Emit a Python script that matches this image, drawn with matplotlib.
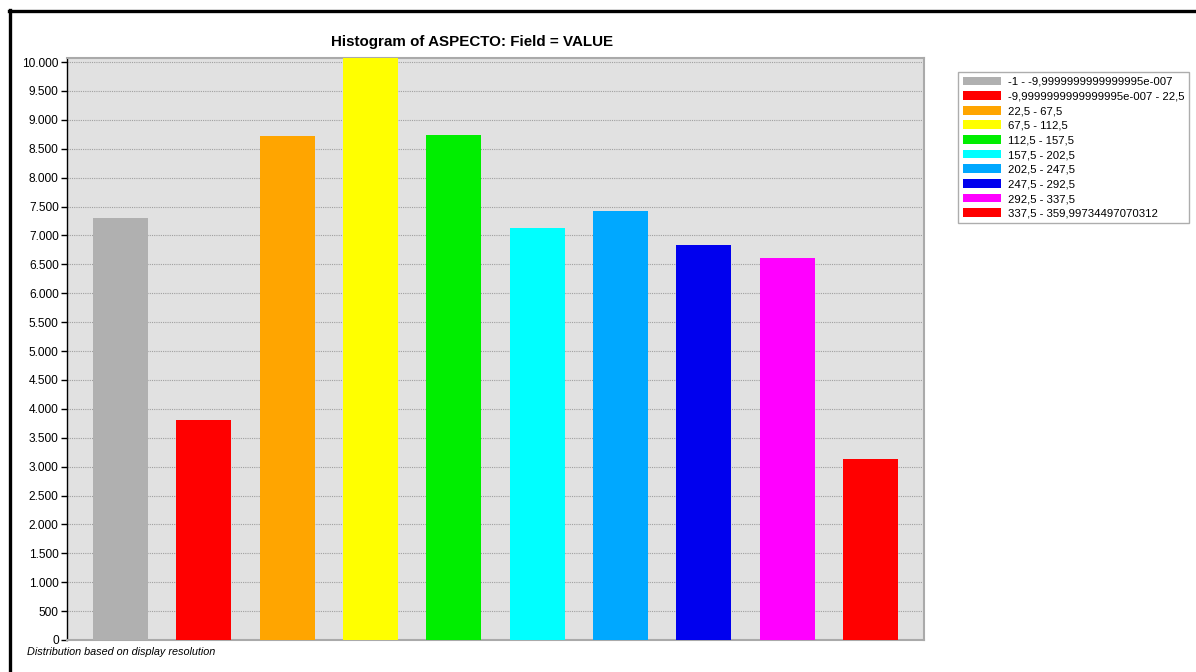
import numpy as np
import matplotlib.pyplot as plt
from matplotlib.patches import Patch
from matplotlib.lines import Line2D
from matplotlib.ticker import FuncFormatter

plt.rcParams['font.family'] = ['Liberation Sans', 'DejaVu Sans']

# classes of the histogram
labels = ['-1 - -9,9999999999999995e-007',
          '-9,9999999999999995e-007 - 22,5',
          '22,5 - 67,5',
          '67,5 - 112,5',
          '112,5 - 157,5',
          '157,5 - 202,5',
          '202,5 - 247,5',
          '247,5 - 292,5',
          '292,5 - 337,5',
          '337,5 - 359,99734497070312']
counts = [7300, 3806, 8720, 10070, 8737, 7128, 7422, 6834, 6609, 3131]
colors = ['#b0b0b0', '#ff0000', '#ffa500', '#ffff00', '#00ee00',
          '#00ffff', '#00a8ff', '#0000ee', '#ff00ff', '#ff0000']
yticks = np.arange(0, 10001, 500)

fig = plt.figure(figsize=(11.96, 6.72), dpi=100)
W, H = 1196, 672
ax = fig.add_axes([67/W, 1-640/H, (924-67)/W, (640-58)/H])

ax.set_facecolor('#e1e1e1')
x = np.arange(len(counts))
ax.bar(x, counts, width=0.66, color=colors, zorder=3)
ax.set_xlim(-0.64, len(counts)-1+0.64)
ax.set_ylim(0, max(counts))

ax.set_yticks(yticks)
ax.yaxis.set_major_formatter(FuncFormatter(lambda v, p: f'{int(v):,}'.replace(',', '.')))
ax.set_xticks([])
ax.tick_params(axis='y', direction='out', length=4, width=1, labelsize=8.6, pad=2, colors='black')
ax.grid(axis='y', color='#a0a0a0', linestyle=(0, (1, 1)), linewidth=0.8, zorder=1)

for side in ['top', 'right', 'bottom']:
    ax.spines[side].set_color('#aaaaaa')
    ax.spines[side].set_linewidth(1.5)
ax.spines['left'].set_color('black')
ax.spines['left'].set_linewidth(1)

fig.text((332+613)/2/W, 1-42/H, 'Histogram of ASPECTO: Field = VALUE',
         ha='center', va='center', fontsize=10.9, fontweight='bold')
fig.text(27/W, 1-652/H, 'Distribution based on display resolution',
         ha='left', va='center', fontsize=7.8, style='italic')

handles = [Patch(facecolor=c, edgecolor='none') for c in colors]
leg = fig.legend(handles, labels, loc='upper left',
                 bbox_to_anchor=(958/W, 1-72/H), fontsize=8.2,
                 frameon=True, fancybox=False, handlelength=3.4, handleheight=0.8,
                 handletextpad=0.55, labelspacing=0.38, borderpad=0.4,
                 borderaxespad=0)
leg.get_frame().set_edgecolor('#999999')
leg.get_frame().set_linewidth(1)

# black frame at left and top of the window
fig.add_artist(Line2D([9.5/W, 9.5/W], [0, 1-10/H], color='black', lw=2.4, transform=fig.transFigure))
fig.add_artist(Line2D([8.5/W, 1], [1-11/H, 1-11/H], color='black', lw=2.4, transform=fig.transFigure))

fig.savefig('out.png', dpi=100)
